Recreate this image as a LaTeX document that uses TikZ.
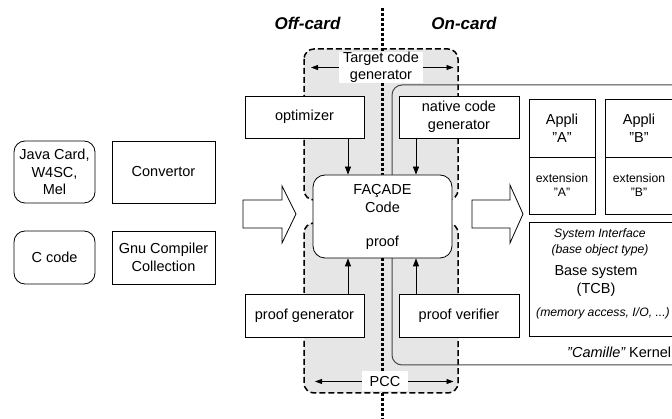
\documentclass[tikz,border=0pt]{standalone}
\usepackage{fontspec}
\setmainfont{Liberation Sans}
\usetikzlibrary{arrows.meta}
\definecolor{regionfill}{HTML}{E6E6E6}
\definecolor{kernelline}{HTML}{454545}
\newcommand{\dgmain}{\fontsize{14.5}{17.5}\selectfont}
\newcommand{\dgsmall}{\fontsize{12.2}{14}\selectfont}
\newcommand{\dghead}{\fontsize{17}{20}\selectfont\bfseries\itshape}
\tikzset{
  box/.style={draw=black, line width=0.8pt, fill=white, inner sep=0pt, align=center, font=\dgmain},
  roundbox/.style={box, rounded corners=11pt},
  region/.style={draw=black, line width=1.5pt, dash pattern=on 6pt off 3pt, fill=regionfill, rounded corners=10pt},
  divider/.style={draw=black, line width=3pt, dash pattern=on 3pt off 2pt},
  kernel/.style={draw=kernelline, line width=1pt, rounded corners=10pt},
  regionlabel/.style={fill=white, inner sep=0pt, align=center, font=\dgmain},
  txt/.style={inner sep=0pt, align=center, font=\dgmain},
  smalltxt/.style={inner sep=0pt, align=center, font=\dgsmall\itshape},
  heading/.style={inner sep=0pt, font=\dghead},
  flow/.style={draw=black, line width=0.8pt, -{Triangle[length=8pt,width=6pt]}},
  span/.style={draw=black, line width=0.8pt, -{Triangle[length=7pt,width=5pt]}},
  bigarrow/.style={draw=black, line width=0.8pt, fill=white, line join=miter},
}
\begin{document}
\begin{tikzpicture}[x=1pt,y=-1pt]
\useasboundingbox (0,0) rectangle (672,419);
\clip (0,0) rectangle (672,419);

% gray dashed regions
\draw[region] (304,49) rectangle (458,200);
\draw[region] (304,223) rectangle (458,393);

% kernel outline
\draw[kernel] (690,85) -- (392,85) -- (392,365) -- (690,365);

% off-card / on-card divider
\coordinate (divtop) at (382.5,8);
\coordinate (divbot) at (382.5,425);
\draw[divider] (divtop) -- (divbot);

\node[heading] (offcard) at (307.5,23) {Off-card};
\node[heading] (oncard) at (464,23) {On-card};

% region labels
\node[regionlabel, minimum width=84pt, minimum height=29pt] (tcg) at (381,67.5) {Target code\\generator};
\coordinate (tcgL) at (311,66);
\coordinate (tcgR) at (453.5,66);
\draw[span] (tcg.west) -- (tcg.west -| tcgL);
\draw[span] (tcg.east) -- (tcg.east -| tcgR);

\node[regionlabel, minimum width=46pt, minimum height=20pt] (pcc) at (385,381.5) {PCC};
\coordinate (pccL) at (315,381);
\coordinate (pccR) at (453.5,381);
\draw[span] (pcc.west) -- (pcc.west -| pccL);
\draw[span] (pcc.east) -- (pcc.east -| pccR);

% source boxes
\node[roundbox, minimum width=81pt, minimum height=62pt] (java) at (54.5,172) {Java Card,\\W4SC,\\Mel};
\node[box, minimum width=103pt, minimum height=62pt] (conv) at (163.5,172) {Convertor};
\node[roundbox, minimum width=81pt, minimum height=53pt] (ccode) at (54.5,257.5) {C code};
\node[box, minimum width=103pt, minimum height=53pt] (gcc) at (163.5,257.5) {Gnu Compiler\\Collection};

% tool boxes
\node[box, minimum width=119pt, minimum height=42pt] (optim) at (304.5,117) {optimizer};
\node[box, minimum width=120pt, minimum height=42pt] (native) at (459,117) {native code\\generator};
\node[box, minimum width=119pt, minimum height=43pt] (pgen) at (304.5,315.5) {proof generator};
\node[box, minimum width=120pt, minimum height=43pt] (pver) at (459,315.5) {proof verifier};

% facade
\node[roundbox, rounded corners=12pt, minimum width=139pt, minimum height=83pt] (facade) at (382.5,216.5) {};
\node[txt] (facadecode) at (382.5,198.5) {FAÇADE\\Code};
\node[txt] (facadeproof) at (382.5,243) {proof};

% connectors
\coordinate (colL) at (348,0);
\coordinate (colR) at (416,0);
\draw[flow] (optim.south -| colL) -- (facade.north -| colL);
\draw[flow] (native.south -| colR) -- (facade.north -| colR);
\draw[flow] (pgen.north -| colL) -- (facade.south -| colL);
\draw[flow] (pver.north -| colR) -- (facade.south -| colR);

% big block arrows
\draw[bigarrow] (243,200) -- (282,200) -- (282,186) -- (296,214) -- (282,243) -- (282,228) -- (243,228) -- cycle;
\draw[bigarrow] (472,200) -- (510,200) -- (510,185) -- (523,214) -- (510,243) -- (510,228) -- (472,228) -- cycle;

% on-card stack
\node[box, minimum width=66pt, minimum height=58pt] (applia) at (562,128) {Appli\\"A"};
\node[box, font=\fontsize{12.2}{14}\selectfont, minimum width=66pt, minimum height=57pt] (exta) at (562,185.5) {extension\\"A"};
\node[box, minimum width=68pt, minimum height=58pt] (applib) at (639,128) {Appli\\"B"};
\node[box, font=\fontsize{12.2}{14}\selectfont, minimum width=68pt, minimum height=57pt] (extb) at (639,185.5) {extension\\"B"};

\node[box, minimum width=144pt, minimum height=114pt] (basebox) at (601,279) {};
\node[smalltxt] (sysif) at (600,234) {System Interface};
\node[smalltxt] (baseobj) at (600,250) {(base object type)};
\node[txt] (basesys) at (596,272) {Base system};
\node[txt] (tcb) at (596,290) {(TCB)};
\node[smalltxt] (memacc) at (603,313) {(memory access, I/O, ...)};

\node[txt, anchor=base west] (kernellabel) at (567,358) {\itshape"Camille"\upshape\ Kernel};
\end{tikzpicture}
\end{document}
